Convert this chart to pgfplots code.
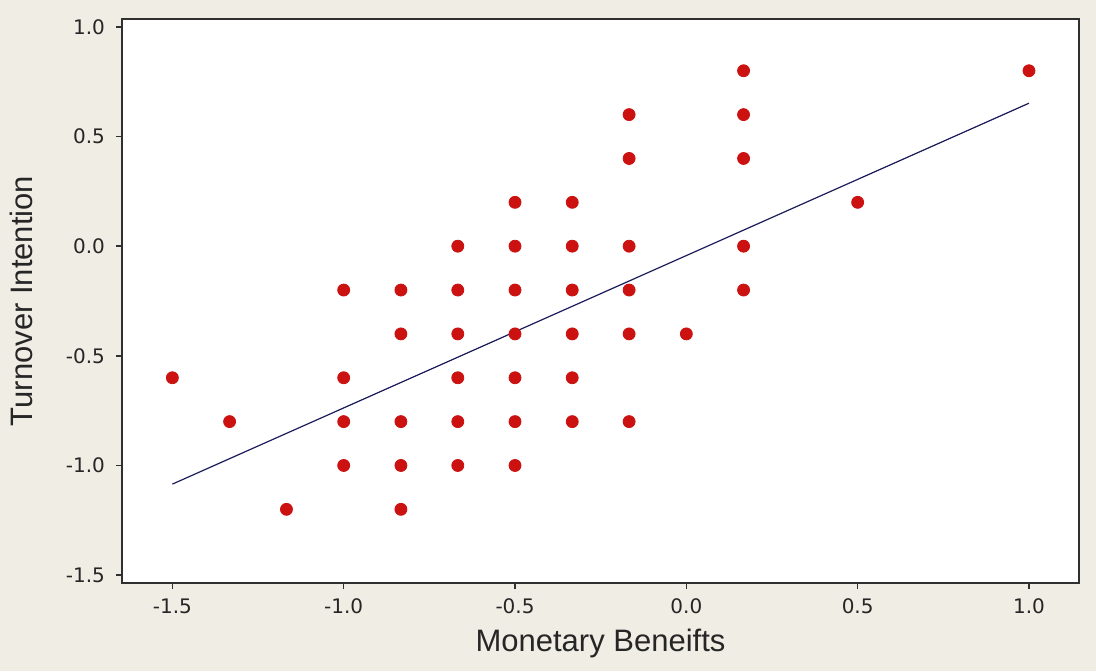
\documentclass[border=0pt]{standalone}
\usepackage{pgfplots}
\pgfplotsset{compat=1.18}
\usepackage{fontspec}
\setmainfont{Liberation Sans}
\newfontfamily\tickfont{DejaVu Sans}
\definecolor{bg}{HTML}{F0EDE4}
\definecolor{pt}{HTML}{CC1111}
\definecolor{ln}{HTML}{1A1A5A}
\definecolor{ax}{HTML}{303030}
\begin{document}
\begin{tikzpicture}[x=1pt,y=1pt]
\fill[bg] (-61,-44) rectangle (487,291.5);
\begin{axis}[
  at={(0,0)}, anchor=south west,
  scale only axis, width=478.5pt, height=282pt,
  xmin=-1.647, xmax=1.146, ymin=-1.536, ymax=1.036,
  xtick={-1.5,-1,-0.5,0,0.5,1}, ytick={-1.5,-1,-0.5,0,0.5,1},
  xticklabel style={font=\tickfont\fontsize{10}{11}\selectfont, text=black!85, yshift=-1.5pt},
  yticklabel style={font=\tickfont\fontsize{10}{11}\selectfont, text=black!85, xshift=-2pt},
  /pgf/number format/assume math mode=true,
  /pgf/number format/fixed, /pgf/number format/fixed zerofill,
  /pgf/number format/precision=1,
  tick align=outside, tick pos=left, major tick length=3pt,
  tick style={ax, line width=0.7pt},
  axis line style={ax, line width=0.9pt},
  axis background/.style={fill=white},
  xlabel={Monetary Beneifts}, ylabel={Turnover Intention},
  label style={font=\fontsize{15.5}{17}\selectfont, text=black!85},
  xlabel style={at={(axis description cs:0.5,0)}, anchor=center, yshift=-30pt},
  ylabel style={at={(axis description cs:0,0.5)}, anchor=center, rotate=0, yshift=50.5pt},
  clip=false,
]
\addplot[only marks, mark=*, mark size=3pt, mark options={draw=pt, fill=pt}] coordinates {
(-1.5,-0.6) (-1.333,-0.8) (-1.167,-1.2)
(-1.0,-0.2) (-1.0,-0.6) (-1.0,-0.8) (-1.0,-1.0)
(-0.833,-0.2) (-0.833,-0.4) (-0.833,-0.8) (-0.833,-1.0) (-0.833,-1.2)
(-0.667,0.0) (-0.667,-0.2) (-0.667,-0.4) (-0.667,-0.6) (-0.667,-0.8) (-0.667,-1.0)
(-0.5,0.2) (-0.5,0.0) (-0.5,-0.2) (-0.5,-0.4) (-0.5,-0.6) (-0.5,-0.8) (-0.5,-1.0)
(-0.333,0.2) (-0.333,0.0) (-0.333,-0.2) (-0.333,-0.4) (-0.333,-0.6) (-0.333,-0.8)
(-0.167,0.6) (-0.167,0.4) (-0.167,0.0) (-0.167,-0.2) (-0.167,-0.4) (-0.167,-0.8)
(0.0,-0.4)
(0.167,0.8) (0.167,0.6) (0.167,0.4) (0.167,0.0) (0.167,-0.2)
(0.5,0.2) (1.0,0.8)
};
\addplot[ln, line width=0.6pt] coordinates {(-1.5,-1.085) (1.0,0.652)};
\end{axis}
\end{tikzpicture}
\end{document}
